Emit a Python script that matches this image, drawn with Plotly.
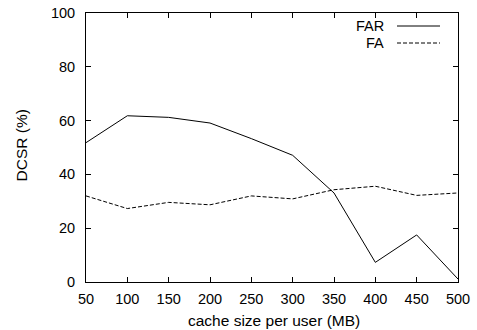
import plotly.graph_objects as go

cache_mb = [50, 100, 150, 200, 250, 300, 350, 400, 450, 500]
far = [51.8, 61.8, 61.2, 59.1, 53.3, 47.1, 33.1, 7.3, 17.5, 1.1]
fa = [32.0, 27.3, 29.6, 28.7, 32.0, 30.9, 34.3, 35.6, 32.2, 33.1]
x_ticks = [50, 100, 150, 200, 250, 300, 350, 400, 450, 500]
y_ticks = [0, 20, 40, 60, 80, 100]

W, H = 477, 330
L, R, T, B = 86, 19, 13, 48
PW, PH = W - L - R, H - T - B

fig = go.Figure()
fig.add_trace(go.Scatter(x=cache_mb, y=far, mode="lines", name="FAR",
                         line=dict(color="black", width=1), showlegend=False))
fig.add_trace(go.Scatter(x=cache_mb, y=fa, mode="lines", name="FA",
                         line=dict(color="black", width=1, dash="4px,2px"), showlegend=False))

family = "Liberation Sans, Arial, sans-serif"
tick_font = dict(family=family, size=14.5, color="black")
title_font = dict(family=family, size=15.5, color="black")
axis_common = dict(showgrid=False, zeroline=False, showline=True, linecolor="black",
                   linewidth=1, mirror="ticks", ticks="inside", ticklen=5,
                   tickcolor="black", tickfont=tick_font, automargin=False)

fig.update_layout(
    width=W, height=H,
    margin=dict(l=L, r=R, t=T, b=B),
    paper_bgcolor="white", plot_bgcolor="white",
    font=tick_font,
    xaxis=dict(range=[50, 500], tickvals=x_ticks, ticklabelstandoff=4, **axis_common),
    yaxis=dict(range=[0, 100], tickvals=y_ticks, ticklabelstandoff=7, **axis_common),
)

def px_x(px):
    return (px - L) / PW

def px_y(py):
    return 1 - (py - T) / PH

# axis titles
fig.add_annotation(xref="paper", yref="paper", x=px_x(274), y=px_y(320),
                   text="cache size per user (MB)", showarrow=False,
                   xanchor="center", yanchor="middle", font=title_font)
fig.add_annotation(xref="paper", yref="paper", x=px_x(21.5), y=px_y(146),
                   text="DCSR (%)", showarrow=False, textangle=-90,
                   xanchor="center", yanchor="middle", font=title_font)

# legend (gnuplot style: text then sample line)
legend_items = [("FAR", "solid", 26), ("FA", "4px,2px", 43)]
for label, dash, ypx in legend_items:
    yp = px_y(ypx)
    fig.add_annotation(xref="paper", yref="paper", x=px_x(386), y=yp,
                       text=label, showarrow=False, xanchor="right", yanchor="middle",
                       font=tick_font)
    fig.add_shape(type="line", xref="paper", yref="paper",
                  x0=px_x(397), x1=px_x(440), y0=yp, y1=yp,
                  line=dict(color="black", width=1, dash=dash))

fig.write_html("out.html")
